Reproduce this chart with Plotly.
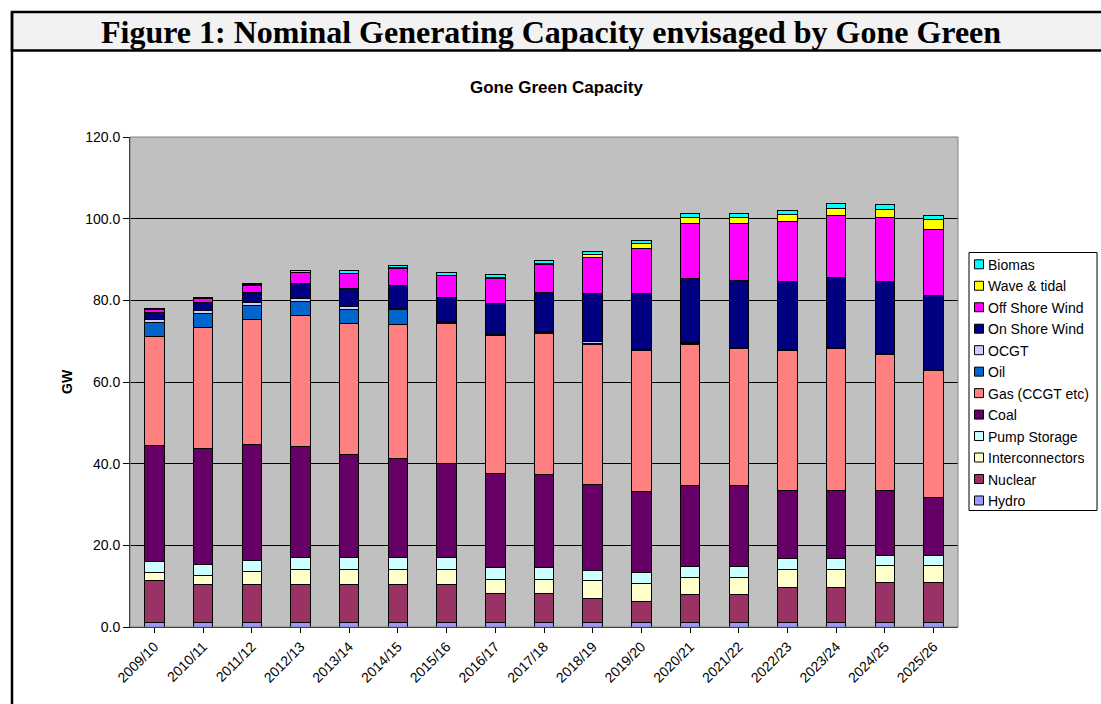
import plotly.graph_objects as go

# Financial years on the category axis
years = ["2009/10", "2010/11", "2011/12", "2012/13", "2013/14", "2014/15",
         "2015/16", "2016/17", "2017/18", "2018/19", "2019/20", "2020/21",
         "2021/22", "2022/23", "2023/24", "2024/25", "2025/26"]

# Installed capacity by technology, GW
hydro = [1.1, 1.1, 1.1, 1.1, 1.1, 1.1, 1.1, 1.1, 1.1, 1.1, 1.1, 1.1, 1.1, 1.1, 1.1, 1.1, 1.1]
nuclear = [10.2, 9.3, 9.3, 9.3, 9.3, 9.3, 9.3, 7.0, 7.0, 5.9, 5.2, 6.8, 6.8, 8.6, 8.6, 9.7, 9.7]
interconnectors = [2.1, 2.1, 3.2, 3.8, 3.8, 3.8, 3.8, 3.6, 3.6, 4.3, 4.3, 4.3, 4.3, 4.3, 4.3, 4.2, 4.2]
pump_storage = [2.6, 2.7, 2.7, 2.7, 2.7, 2.7, 2.7, 2.9, 2.9, 2.6, 2.7, 2.7, 2.7, 2.7, 2.7, 2.6, 2.6]
coal = [28.5, 28.4, 28.4, 27.3, 25.4, 24.3, 23.1, 23.1, 22.7, 20.9, 19.8, 19.8, 19.8, 16.8, 16.8, 15.8, 14.0]
gas = [26.6, 29.7, 30.6, 32.1, 32.0, 32.8, 34.4, 33.6, 34.7, 34.5, 34.6, 34.6, 33.5, 34.2, 34.7, 33.3, 31.2]
oil = [3.5, 3.4, 3.5, 3.4, 3.4, 3.7, 0.2, 0.2, 0.2, 0.2, 0.15, 0.15, 0.15, 0.15, 0.15, 0.1, 0.05]
ocgt = [0.8, 0.8, 0.7, 0.8, 0.7, 0.4, 0.2, 0.2, 0.2, 0.3, 0.15, 0.15, 0.15, 0.15, 0.15, 0.1, 0.05]
onshore_wind = [1.6, 1.9, 2.5, 3.7, 4.5, 5.5, 6.0, 7.5, 9.4, 11.8, 13.7, 15.7, 16.3, 16.6, 17.1, 17.7, 18.2]
offshore_wind = [0.8, 1.1, 1.7, 2.5, 3.6, 4.3, 5.2, 6.1, 6.9, 8.9, 11.0, 13.6, 14.1, 14.7, 15.2, 15.6, 16.2]
wave_tidal = [0.0, 0.0, 0.1, 0.1, 0.1, 0.1, 0.1, 0.2, 0.2, 0.7, 1.1, 1.5, 1.5, 1.6, 1.6, 2.1, 2.5]
biomass = [0.2, 0.3, 0.4, 0.6, 0.6, 0.6, 0.7, 0.8, 0.9, 0.8, 0.9, 0.8, 0.8, 1.1, 1.3, 1.2, 1.0]

series = [
    ("Hydro", hydro, "#9999FF"),
    ("Nuclear", nuclear, "#993366"),
    ("Interconnectors", interconnectors, "#FFFFCC"),
    ("Pump Storage", pump_storage, "#CCFFFF"),
    ("Coal", coal, "#660066"),
    ("Gas (CCGT etc)", gas, "#FF8080"),
    ("Oil", oil, "#0066CC"),
    ("OCGT", ocgt, "#CCCCFF"),
    ("On Shore Wind", onshore_wind, "#000080"),
    ("Off Shore Wind", offshore_wind, "#FF00FF"),
    ("Wave & tidal", wave_tidal, "#FFFF00"),
    ("Biomas", biomass, "#00FFFF"),
]

W, H = 1101, 704
L, R, T, B = 130, 958, 137, 627
PW, PH = R - L, B - T


def px(x):
    return (x - L) / PW


def py(y):
    return (B - y) / PH


SANS = "Liberation Sans, Arial, sans-serif"
SERIF = "Liberation Serif, Times New Roman, serif"

fig = go.Figure()
for name, vals, color in series:
    fig.add_trace(go.Bar(
        x=years, y=vals, name=name,
        marker=dict(color=color, line=dict(color="black", width=1)),
    ))

shapes = [
    # heading band
    dict(type="rect", xref="paper", yref="paper",
         x0=px(12), x1=px(W + 10), y0=py(50.5), y1=py(12),
         fillcolor="#F2F2F2", line=dict(color="black", width=2.5), layer="below"),
    # left page rule
    dict(type="line", xref="paper", yref="paper",
         x0=px(12), x1=px(12), y0=py(12), y1=py(H + 10),
         line=dict(color="black", width=2.5)),
    # plot area frame
    dict(type="rect", xref="paper", yref="paper",
         x0=0, x1=1, y0=0, y1=1,
         line=dict(color="#808080", width=1)),
    # legend box
    dict(type="rect", xref="paper", yref="paper",
         x0=px(969), x1=px(1097), y0=py(510.5), y1=py(252.5),
         fillcolor="white", line=dict(color="black", width=1)),
]

annotations = [
    dict(text="<b>Figure 1: Nominal Generating Capacity envisaged by Gone Green</b>",
         xref="paper", yref="paper", x=px(551), y=py(32),
         xanchor="center", yanchor="middle", showarrow=False,
         font=dict(family=SERIF, size=32, color="black")),
    dict(text="<b>Gone Green Capacity</b>",
         xref="paper", yref="paper", x=px(556), y=py(88),
         xanchor="center", yanchor="middle", showarrow=False,
         font=dict(family=SANS, size=17, color="black")),
    dict(text="<b>GW</b>", textangle=-90,
         xref="paper", yref="paper", x=px(67), y=py(382),
         xanchor="center", yanchor="middle", showarrow=False,
         font=dict(family=SANS, size=14, color="black")),
]

# legend entries, top entry is the last stacked series
row_top, row_step = 264.3, 21.47
for i, (name, vals, color) in enumerate(reversed(series)):
    cy = row_top + i * row_step
    shapes.append(dict(type="rect", xref="paper", yref="paper",
                       x0=px(974.5), x1=px(983.5), y0=py(cy + 4.5), y1=py(cy - 4.5),
                       fillcolor=color, line=dict(color="black", width=1)))
    annotations.append(dict(text=name, xref="paper", yref="paper",
                            x=px(986), y=py(cy + 0.5), xanchor="left", yanchor="middle",
                            showarrow=False,
                            font=dict(family=SANS, size=14, color="black")))

fig.update_layout(
    width=W, height=H,
    margin=dict(l=L, r=W - R, t=T, b=H - B, pad=0),
    barmode="stack",
    bargap=0.6,
    paper_bgcolor="white",
    plot_bgcolor="#C0C0C0",
    font=dict(family=SANS, size=14, color="black"),
    showlegend=False,
    xaxis=dict(
        tickangle=-45, ticks="outside", ticklen=5, tickcolor="black",
        showline=True, linecolor="black", linewidth=1,
        tickfont=dict(family=SANS, size=14),
        showgrid=False,
    ),
    yaxis=dict(
        range=[0, 120], dtick=20, tickformat=".1f",
        ticks="outside", ticklen=6, tickcolor="black",
        showline=True, linecolor="black", linewidth=1,
        gridcolor="black", gridwidth=1,
        tickfont=dict(family=SANS, size=14),
        zeroline=False,
    ),
    shapes=shapes,
    annotations=annotations,
)

fig.write_html("out.html")
